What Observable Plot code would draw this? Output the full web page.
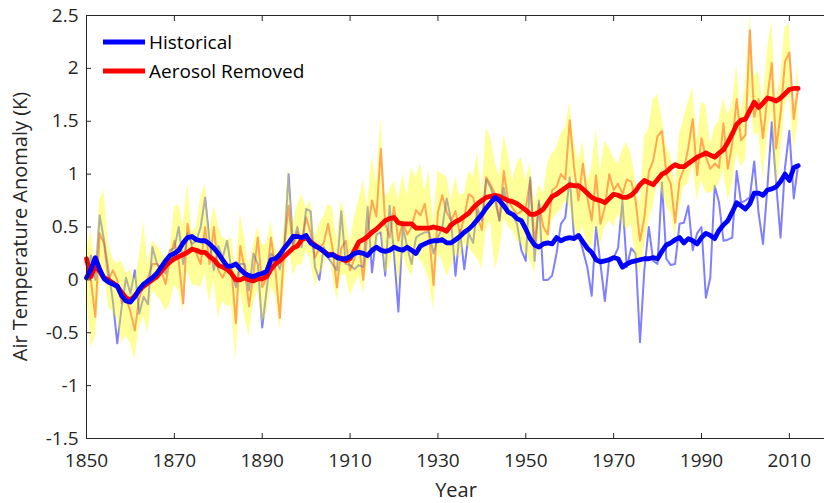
<!DOCTYPE html>
<html><head><meta charset="utf-8">
<script src="https://cdn.jsdelivr.net/npm/d3@7"></script>
<script src="https://cdn.jsdelivr.net/npm/@observablehq/plot@0.6"></script>
<style>
body{margin:0;background:#fff;}
#wrap{position:relative;width:824px;height:503px;}
</style></head><body><div id="wrap"></div>
<script>
const startYear = 1850;
const historical = [
0.0,0.23,0.0,0.61,0.37,0.09,-0.2,-0.6,-0.26,0.02,
-0.13,0.09,-0.32,-0.16,-0.23,0.31,0.16,0.1,0.06,0.28,
0.3,0.5,0.15,0.44,0.34,0.37,0.5,0.78,0.37,0.09,
0.32,0.21,0.37,0.09,-0.07,0.15,0.15,-0.1,0.25,0.15,
-0.45,-0.1,0.25,0.2,0.1,0.3,1.0,0.34,0.5,0.31,
0.67,0.65,0.12,0.0,0.31,0.21,0.15,0.09,0.65,0.15,
0.14,0.1,0.14,0.12,0.69,0.07,0.43,0.45,0.04,0.7,
0.25,-0.3,0.5,0.31,0.15,0.4,0.43,0.45,0.45,0.25,
0.4,0.5,0.77,0.56,0.04,0.47,0.1,0.44,0.35,0.68,
0.56,0.95,0.87,0.75,0.56,0.87,0.66,0.62,0.53,0.28,
0.18,0.97,0.18,0.75,0.0,0.0,0.04,0.25,0.53,0.59,
0.97,0.4,0.43,0.28,0.12,-0.15,0.5,0.15,-0.2,0.2,
0.21,0.3,0.75,0.12,0.3,0.25,-0.59,0.1,0.5,0.18,
0.15,0.92,0.2,0.14,0.15,0.53,0.54,0.7,0.28,0.44,
0.5,-0.17,0.02,0.89,0.73,0.37,0.38,0.4,1.03,0.73,
0.75,0.78,1.12,0.63,0.34,0.87,1.49,0.91,0.4,1.06,
1.41,0.77,1.09];
const aerosolRemoved = [
0.21,0.0,-0.35,0.44,0.34,0.0,0.09,0.0,-0.22,-0.17,
-0.3,-0.48,-0.17,-0.04,0.02,0.15,0.15,0.09,-0.04,0.2,
0.37,0.18,-0.22,0.53,0.31,0.25,0.15,0.5,0.15,0.5,
0.09,0.02,0.12,0.1,-0.41,0.32,0.1,-0.25,0.06,0.4,
-0.07,0.02,0.4,0.1,-0.36,0.3,0.7,0.31,0.45,0.35,
0.59,0.45,0.21,0.3,0.35,0.53,0.3,-0.07,0.3,0.37,
0.09,0.2,0.34,0.0,0.47,0.75,0.6,1.24,0.53,0.4,
0.69,0.37,0.55,0.43,0.5,0.66,0.61,0.72,0.43,-0.05,
0.64,0.8,0.64,0.56,0.65,0.43,0.6,0.81,0.78,0.6,
0.47,0.97,0.9,0.81,0.56,1.03,0.75,0.68,0.62,0.65,
0.68,0.94,0.34,0.72,0.5,0.43,0.85,0.88,1.0,0.95,
1.51,1.06,0.75,1.1,0.78,0.56,0.99,0.53,0.69,1.0,
0.85,0.91,0.81,0.95,0.93,0.75,0.37,0.59,1.02,1.13,
1.36,1.41,1.0,0.91,0.54,0.94,1.05,1.25,1.52,0.99,
1.34,1.16,1.05,1.1,1.06,1.48,1.05,1.29,1.71,1.32,
1.37,2.36,1.54,1.71,1.34,1.73,2.05,1.24,1.57,2.06,
2.15,1.52,1.82];
const historicalSmooth = [
0.02,0.1,0.21,0.1,0.01,-0.02,-0.04,-0.06,-0.15,-0.2,
-0.21,-0.16,-0.09,-0.04,-0.01,0.02,0.06,0.12,0.18,0.23,
0.25,0.28,0.35,0.4,0.41,0.38,0.37,0.37,0.34,0.3,
0.25,0.19,0.13,0.13,0.15,0.1,0.06,0.04,0.03,0.05,
0.06,0.08,0.19,0.2,0.24,0.3,0.35,0.41,0.41,0.4,
0.42,0.35,0.32,0.3,0.27,0.23,0.24,0.21,0.2,0.2,
0.22,0.25,0.26,0.25,0.23,0.28,0.31,0.28,0.27,0.28,
0.31,0.29,0.28,0.31,0.28,0.25,0.32,0.34,0.36,0.37,
0.37,0.38,0.35,0.35,0.38,0.41,0.45,0.48,0.52,0.57,
0.62,0.68,0.73,0.78,0.75,0.7,0.64,0.62,0.58,0.56,
0.48,0.39,0.33,0.31,0.34,0.35,0.34,0.4,0.37,0.39,
0.4,0.39,0.42,0.36,0.3,0.26,0.19,0.17,0.18,0.19,
0.21,0.2,0.12,0.15,0.17,0.18,0.19,0.2,0.2,0.21,
0.2,0.27,0.33,0.35,0.38,0.4,0.35,0.39,0.37,0.34,
0.4,0.44,0.42,0.39,0.47,0.52,0.56,0.64,0.73,0.7,
0.67,0.72,0.82,0.82,0.8,0.85,0.86,0.88,0.93,1.0,
0.94,1.06,1.08];
const aerosolRemovedSmooth = [
0.2,0.03,0.14,0.08,0.02,0.0,-0.03,-0.06,-0.12,-0.17,
-0.19,-0.15,-0.1,-0.06,-0.03,0.0,0.03,0.08,0.13,0.17,
0.2,0.22,0.24,0.26,0.29,0.28,0.26,0.26,0.22,0.19,
0.14,0.12,0.1,0.06,0.0,0.0,0.02,0.0,-0.01,0.01,
0.01,0.03,0.1,0.15,0.18,0.22,0.26,0.3,0.32,0.38,
0.4,0.36,0.33,0.3,0.27,0.24,0.24,0.22,0.2,0.18,
0.2,0.28,0.36,0.38,0.41,0.45,0.48,0.52,0.56,0.58,
0.59,0.54,0.53,0.53,0.53,0.49,0.49,0.49,0.49,0.5,
0.49,0.48,0.46,0.52,0.55,0.57,0.6,0.63,0.68,0.72,
0.75,0.78,0.79,0.8,0.79,0.77,0.75,0.74,0.72,0.69,
0.66,0.62,0.62,0.64,0.67,0.73,0.79,0.81,0.84,0.87,
0.9,0.89,0.89,0.86,0.82,0.78,0.76,0.75,0.73,0.77,
0.81,0.8,0.78,0.78,0.8,0.84,0.9,0.94,0.92,0.9,
0.95,1.0,1.02,1.06,1.09,1.07,1.07,1.1,1.13,1.16,
1.18,1.2,1.18,1.16,1.2,1.23,1.3,1.38,1.47,1.51,
1.52,1.6,1.68,1.63,1.67,1.72,1.71,1.69,1.72,1.76,
1.8,1.81,1.81];
const bandHigh = [
0.25,0.47,0.1,0.75,0.85,0.34,0.2,0.15,0.18,0.06,
0.09,0.0,0.2,0.56,0.15,0.37,0.33,0.27,0.2,0.3,
0.68,0.72,0.5,0.92,0.45,0.5,0.78,0.91,0.46,0.7,
0.52,0.4,0.37,0.4,0.09,0.63,0.4,0.12,0.33,0.5,
0.33,0.34,0.55,0.3,0.25,0.5,1.08,0.53,0.7,0.81,
0.68,0.75,0.4,0.53,0.6,0.72,0.68,0.37,0.75,0.6,
0.35,0.59,0.75,0.94,0.69,1.18,0.9,1.54,0.78,0.84,
0.94,0.75,1.0,0.8,1.06,0.97,1.1,0.84,1.03,0.53,
1.03,1.0,0.97,0.75,0.97,0.8,0.81,1.03,0.97,1.2,
0.81,1.43,1.35,1.12,0.97,1.37,1.19,0.94,1.1,1.16,
0.94,1.1,0.72,0.9,0.82,1.1,1.19,1.25,1.38,1.44,
1.68,1.31,1.12,1.31,0.93,1.06,1.43,1.03,1.31,1.25,
1.15,1.09,1.22,1.3,1.19,0.95,0.7,1.35,1.43,1.7,
1.76,1.53,1.26,1.18,0.87,1.38,1.53,1.69,1.82,1.31,
1.68,1.66,1.28,1.44,1.5,1.72,1.56,1.67,2.04,1.55,
1.86,2.5,1.92,1.98,1.67,2.17,2.45,1.7,1.92,2.39,
2.42,1.63,2.07];
const bandLow = [
-0.05,-0.64,-0.54,-0.07,0.1,-0.26,-0.3,-0.38,-0.6,-0.53,
-0.6,-0.76,-0.44,-0.35,-0.5,-0.1,-0.15,-0.2,-0.3,-0.23,
-0.05,-0.1,-0.3,0.09,-0.05,-0.05,-0.07,0.06,-0.22,0.0,
-0.35,-0.2,-0.25,-0.25,-0.76,-0.1,-0.35,-0.54,-0.22,-0.1,
-0.41,-0.32,-0.07,-0.15,-0.48,-0.1,0.37,0.04,0.14,0.14,
0.27,0.2,-0.06,0.05,0.11,0.3,0.05,-0.2,0.04,0.05,
-0.15,-0.05,0.04,-0.13,0.15,0.3,0.3,0.47,0.06,0.12,
0.3,-0.06,0.25,0.12,0.03,0.25,0.18,0.12,0.0,-0.29,
0.25,0.18,0.03,0.12,0.25,0.2,0.34,0.31,0.25,0.2,
0.1,0.47,0.56,0.09,0.25,0.59,0.5,0.47,0.37,0.34,
0.25,0.18,0.06,0.4,0.28,0.31,0.56,0.62,0.66,0.75,
0.69,0.5,0.4,0.5,0.31,0.31,0.53,0.31,0.5,0.56,
0.5,0.62,0.53,0.47,0.53,0.2,0.05,0.3,0.56,0.69,
0.94,0.82,0.69,0.63,0.41,0.69,0.88,0.91,1.1,0.75,
0.94,0.82,0.82,0.85,0.91,1.04,0.75,0.9,1.2,1.07,
1.13,1.76,1.36,1.4,0.95,1.36,1.6,0.85,1.16,1.64,
1.76,1.22,1.48];
const xTicks = [1850,1870,1890,1910,1930,1950,1970,1990,2010];
const yTicks = [-1.5,-1,-0.5,0,0.5,1,1.5,2,2.5];
const legendNames = ["Historical","Aerosol Removed"];
const legendColors = ["#0000ff","#ff0000"];
const xTitle = "Year";
const yTitle = "Air Temperature Anomaly (K)";

const rows = historical.map((v,i)=>({
  year: startYear + i, hist: v, aer: aerosolRemoved[i],
  hs: historicalSmooth[i], as: aerosolRemovedSmooth[i],
  lo: bandLow[i], hi: bandHigh[i]
}));

const font = "'Open Sans', sans-serif";
const ink = "#262626";
const fmtY = d => (Math.round(d*10)/10).toString();
const W = 824, H = 503, mL = 86, mR = 0, mT = 15, mB = 65;

const chart = Plot.plot({
  width: W, height: H,
  marginLeft: mL, marginRight: mR, marginTop: mT, marginBottom: mB,
  x: {domain: [1850, 2018]},
  y: {domain: [-1.5, 2.5]},
  style: {fontFamily: font, fontSize: "19px", color: ink, background: "#fff"},
  marks: [
    Plot.lineY(rows, {x: "year", y: "aer", stroke: "#ff6e87", strokeWidth: 2}),
    Plot.lineY(rows, {x: "year", y: "hist", stroke: "#0000ff", strokeWidth: 2, strokeOpacity: 0.5}),
    Plot.areaY(rows, {x: "year", y1: "lo", y2: "hi", fill: "#ffff00", fillOpacity: 0.4}),
    Plot.lineY(rows, {x: "year", y: "as", stroke: "#ff0000", strokeWidth: 4.8}),
    Plot.lineY(rows, {x: "year", y: "hs", stroke: "#0000ff", strokeWidth: 4.8}),
    Plot.frame({stroke: ink, strokeWidth: 1}),
    Plot.axisX({anchor: "bottom", ticks: xTicks, tickFormat: d => String(d), tickSize: -5, tickPadding: 20, label: null, fontSize: 19, stroke: ink}),
    Plot.axisX({anchor: "top", ticks: xTicks, tickFormat: () => "", tickSize: -5, tickPadding: 0, label: null, stroke: ink}),
    Plot.axisY({anchor: "left", ticks: yTicks, tickFormat: fmtY, tickSize: -5, tickPadding: 13, label: null, fontSize: 19, stroke: ink})
  ]
});
document.getElementById("wrap").appendChild(chart);

const svg = d3.select(chart);
// axis titles
svg.append("text").attr("x", mL + (W - mL - mR) / 2 + 1).attr("y", H - 13)
  .attr("dy", "0.35em").attr("text-anchor", "middle")
  .attr("font-family", font).attr("font-size", 20).attr("fill", ink).text(xTitle);
svg.append("text").attr("transform", `translate(20,${mT + (H - mT - mB) / 2}) rotate(-90)`)
  .attr("dy", "0.35em").attr("text-anchor", "middle")
  .attr("font-family", font).attr("font-size", 20).attr("fill", ink).text(yTitle);

// legend inside the plot area (top-left)
const lg = svg.append("g").attr("transform", "translate(103,42)");
legendNames.forEach((name, i) => {
  const g = lg.append("g").attr("transform", `translate(0,${i*29})`);
  g.append("line").attr("x1", 0).attr("x2", 42).attr("y1", 0).attr("y2", 0)
    .attr("stroke", legendColors[i]).attr("stroke-width", 4.8);
  g.append("text").attr("x", 46).attr("y", 0).attr("dy", "0.35em").attr("text-anchor", "start")
    .attr("font-family", font).attr("font-size", 19).attr("fill", "#000").text(name);
});
</script>
</body></html>
